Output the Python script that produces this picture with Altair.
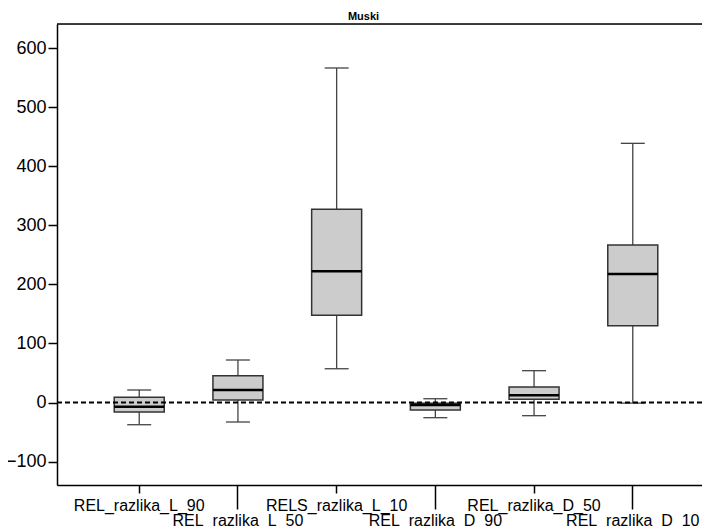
import altair as alt
import pandas as pd

categories = ["REL_razlika_L_90", "REL_razlika_L_50", "RELS_razlika_L_10",
              "REL_razlika_D_90", "REL_razlika_D_50", "REL_razlika_D_10"]
whisker_low = [-37.6, -33.0, 57.2, -25.7, -22.3, -1.0]
q1 = [-16.1, 4.2, 147.7, -12.7, 5.4, 130.0]
median = [-7.1, 21.2, 222.2, -4.2, 12.2, 217.6]
q3 = [8.8, 45.4, 327.2, -1.4, 26.3, 266.8]
whisker_high = [21.2, 72.0, 566.6, 6.4, 53.9, 439.0]
reference_line = [0]
y_ticks = [-100, 0, 100, 200, 300, 400, 500, 600]

df = pd.DataFrame({"cat": categories, "lo": whisker_low, "q1": q1,
                   "med": median, "q3": q3, "hi": whisker_high})
ref = pd.DataFrame({"v": reference_line})
frame = pd.DataFrame({"k": [0]})

second_row = [c for i, c in enumerate(categories) if i % 2 == 1]
test = "indexof([" + ",".join("'%s'" % c for c in second_row) + "], datum.value) >= 0"

FONT = "Liberation Sans"
W, H = 645, 461

xscale = alt.Scale(domain=categories, range=[0, 658], paddingInner=0, paddingOuter=0.333)
yscale = alt.Scale(domain=[-139.7, 641.1], nice=False, zero=False)

xaxis = alt.Axis(title=None, labelAngle=0, labelFontSize=16, labelFont=FONT,
                 labelColor="black", tickColor="black", domainColor="black",
                 domainWidth=1.5, tickWidth=1.5, labelOverlap=False, labelBound=False,
                 labelFlush=False,
                 tickSize={"condition": {"test": test, "value": 24}, "value": 8},
                 labelPadding={"condition": {"test": test, "value": 3}, "value": 4})
yaxis = alt.Axis(title=None, values=y_ticks, labelFontSize=18, labelFont=FONT,
                 labelColor="black", tickColor="black", domainColor="black",
                 domainWidth=1.5, tickWidth=1.5, tickSize=9, labelPadding=2, grid=False)

base = alt.Chart(df)
x_enc = alt.X("cat:N", scale=xscale, axis=xaxis, sort=categories)

whiskers = base.mark_rule(color="#444444", strokeWidth=1.3).encode(
    x=x_enc, y=alt.Y("lo:Q", scale=yscale, axis=yaxis), y2="hi:Q")
boxes = base.mark_bar(size=50, fill="#cccccc", stroke="#333333", strokeWidth=1.5).encode(
    x=x_enc, y=alt.Y("q1:Q", scale=yscale), y2="q3:Q")
medians = base.mark_tick(size=50, thickness=2.5, color="black", opacity=1).encode(
    x=x_enc, y=alt.Y("med:Q", scale=yscale))
caps_lo = base.mark_tick(size=24, thickness=1.3, color="#444444", opacity=1).encode(
    x=x_enc, y=alt.Y("lo:Q", scale=yscale))
caps_hi = base.mark_tick(size=24, thickness=1.3, color="#444444", opacity=1).encode(
    x=x_enc, y=alt.Y("hi:Q", scale=yscale))
zero_line = alt.Chart(ref).mark_rule(color="black", strokeWidth=2, strokeDash=[5, 3]).encode(
    y=alt.Y("v:Q", scale=yscale))
top_border = alt.Chart(frame).mark_rule(color="black", strokeWidth=1.5).encode(
    y=alt.value(0))

chart = alt.layer(whiskers, boxes, medians, caps_lo, caps_hi, zero_line, top_border).properties(
    width=W, height=H,
    title=alt.TitleParams("Muski", font=FONT, fontSize=11, fontWeight="bold",
                          color="black", anchor="middle", offset=1, dx=-16),
    autosize=alt.AutoSizeParams(type="none"),
    padding={"left": 49, "top": 16, "right": 0, "bottom": 42},
).configure_view(strokeWidth=0, strokeOpacity=0).configure(background="white")

chart.save("out.html", embed_options={"renderer": "svg", "actions": False})
